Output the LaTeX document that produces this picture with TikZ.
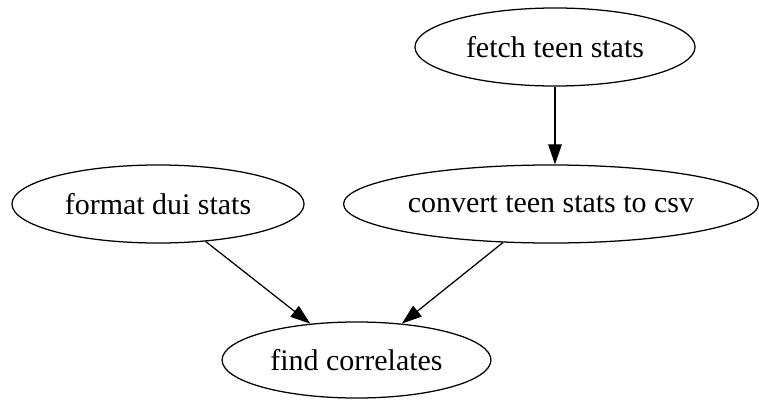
\documentclass[tikz,border=0pt]{standalone}
\usepackage{fontspec}
\setmainfont{Liberation Serif}
\usetikzlibrary{shapes.geometric,arrows.meta}

\begin{document}
\begin{tikzpicture}[x=0.025cm,y=-0.025cm,
        task/.style={draw,ellipse,line width=0.9pt,inner sep=0pt,minimum height=1.95cm,font=\fontsize{21.3}{25}\selectfont},
        dep/.style={draw,line width=0.9pt,-{Triangle[length=0.5cm,width=0.34cm]}}]
                \useasboundingbox (0,0) rectangle (759,402);
                \node[task,minimum width=7cm] (fetch) at (555,47) {fetch teen stats};
                \node[task,minimum width=10.37cm] (convert) at (551,204) {convert teen stats to csv};
                \node[task,minimum width=7.3cm] (format) at (158,204) {format dui stats};
                \node[task,minimum width=6.72cm,minimum height=1.9cm] (find) at (356.5,360) {find correlates};
                \draw[dep] (fetch.south) -- (fetch.south |- convert.north);
                \draw[dep] (format) -- (find);
                \draw[dep] (convert) -- (find);
            \end{tikzpicture}
\end{document}
